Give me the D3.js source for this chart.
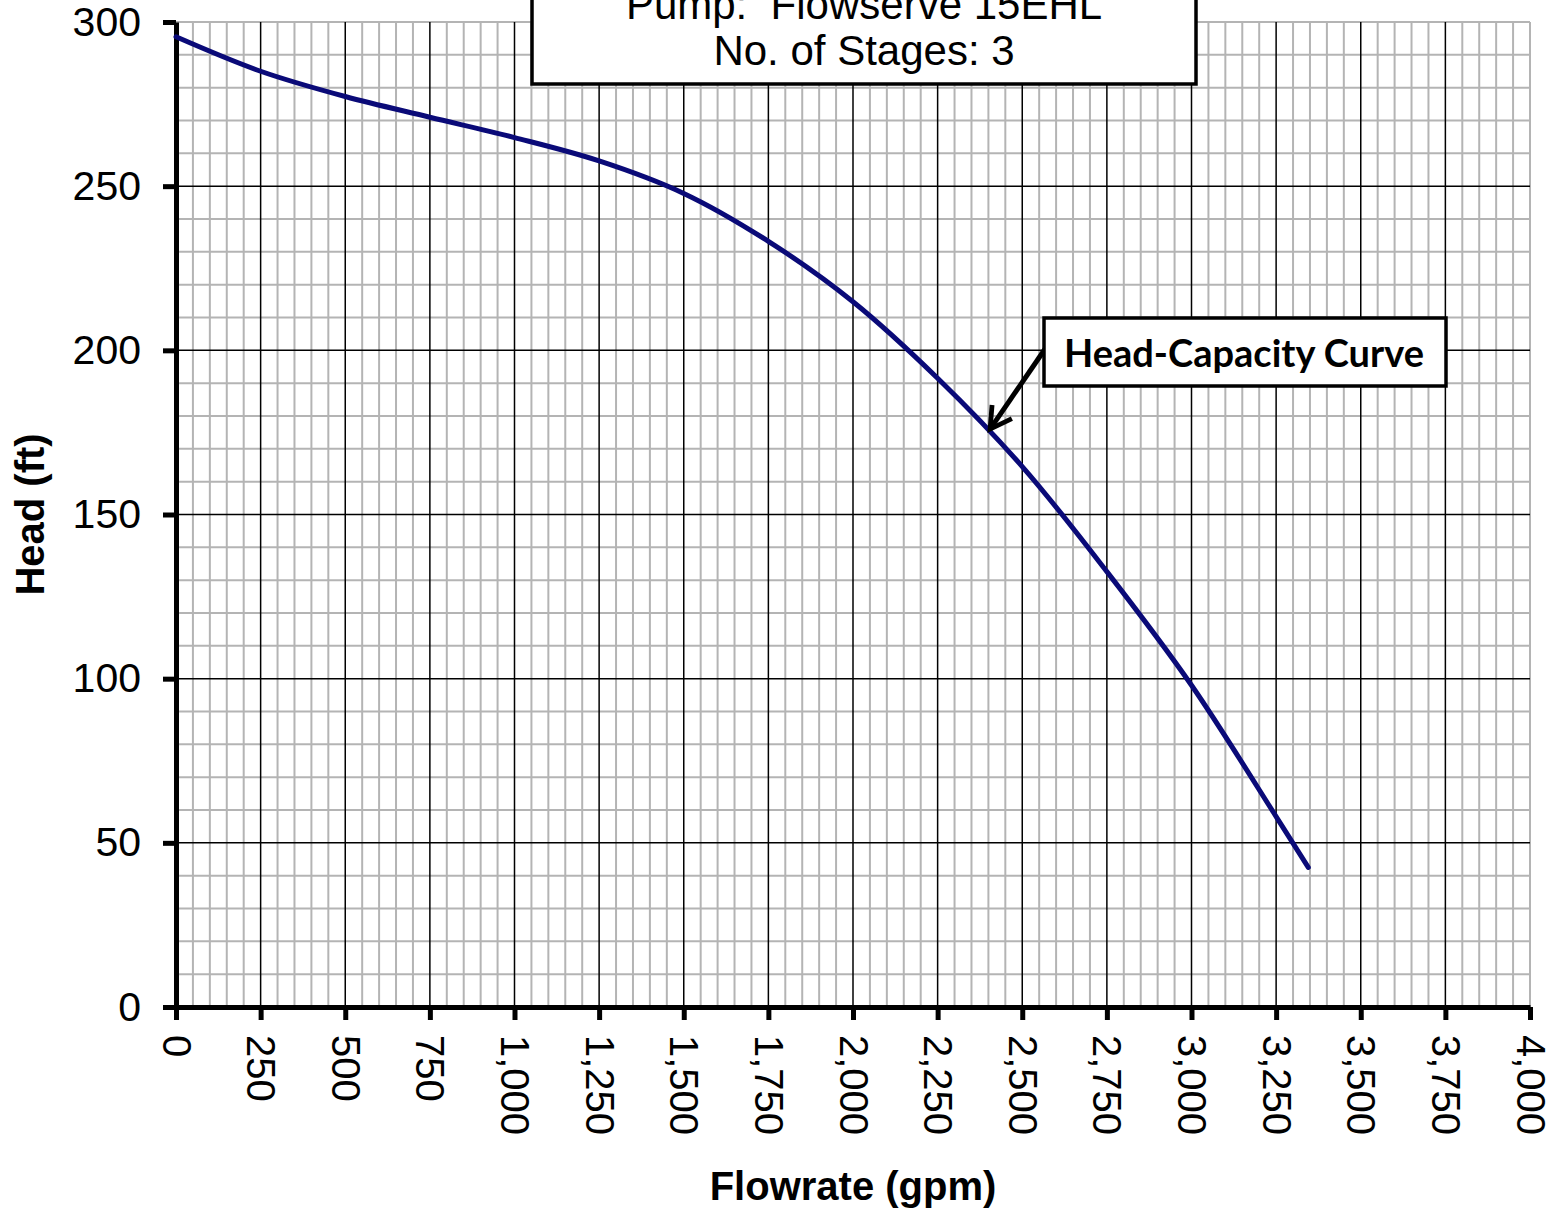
<!DOCTYPE html>
<html>
<head>
<meta charset="utf-8">
<script src="https://cdn.jsdelivr.net/npm/d3@7"></script>
<style>
  body { margin: 0; background: #fff; }
  svg { display: block; }
  text { font-family: "Liberation Sans", Arial, sans-serif; }
</style>
</head>
<body>
<div id="viz"></div>
<script>
// pump curve
const flow = [0, 250, 500, 750, 1000, 1250, 1500, 1750, 2000, 2250, 2500, 2750, 3000, 3250, 3345]
const head = [295.5, 285, 277.3, 271, 264.8, 257.7, 247.8, 233.2, 214.8, 191.5, 164.6, 132.6, 98, 58, 42.5]
const xTicks = d3.range(0, 4001, 250)
const yTicks = d3.range(0, 301, 50)
const titleLines = ["Pump:  Flowserve 15EHL", "No. of Stages: 3"]
const noteText = "Head-Capacity Curve"
const notePoint = [2405, 176]

const W = 1555, H = 1212
const margin = { left: 176, top: 22, right: 25, bottom: 205 }

const svg = d3.select("#viz").append("svg").attr("width", W).attr("height", H)

const x = d3.scaleLinear().domain([0, 4000]).range([margin.left, W - margin.right])
const y = d3.scaleLinear().domain([0, 300]).range([H - margin.bottom, margin.top])

// minor grid
const grid = svg.append("g")
grid.selectAll(".vmin").data(d3.range(50, 4001, 50).filter(d => d % 250 !== 0 || d === 4000))
    .join("line")
    .attr("x1", d => x(d)).attr("x2", d => x(d))
    .attr("y1", y(0)).attr("y2", y(300))
    .attr("stroke", "#b4b4b4").attr("stroke-width", 2)
grid.selectAll(".hmin").data(d3.range(10, 301, 10).filter(d => d % 50 !== 0 || d === 300))
    .join("line")
    .attr("x1", x(0)).attr("x2", x(4000))
    .attr("y1", d => y(d)).attr("y2", d => y(d))
    .attr("stroke", "#b4b4b4").attr("stroke-width", 2)

// major grid
grid.selectAll(".vmaj").data(xTicks.filter(d => d > 0 && d < 4000))
    .join("line")
    .attr("x1", d => x(d)).attr("x2", d => x(d))
    .attr("y1", y(0)).attr("y2", y(300))
    .attr("stroke", "#000").attr("stroke-width", 1.5)
grid.selectAll(".hmaj").data(yTicks.filter(d => d > 0 && d < 300))
    .join("line")
    .attr("x1", x(0)).attr("x2", x(4000))
    .attr("y1", d => y(d)).attr("y2", d => y(d))
    .attr("stroke", "#000").attr("stroke-width", 1.5)

// axes
const fmt = d3.format(",")
const xAxis = svg.append("g")
    .attr("transform", `translate(0,${y(0)})`)
    .call(d3.axisBottom(x).tickValues(xTicks).tickFormat(fmt).tickSize(13).tickPadding(0).tickSizeOuter(0))
xAxis.select(".domain").attr("stroke-width", 5)
xAxis.selectAll(".tick line").attr("stroke-width", 5)
xAxis.selectAll(".tick text")
    .attr("font-size", 40)
    .attr("text-anchor", "start")
    .attr("dy", null)
    .attr("y", 0)
    .attr("dominant-baseline", "central")
    .attr("transform", "translate(0,28) rotate(90)")
    .attr("fill", "#000")

const yAxis = svg.append("g")
    .attr("transform", `translate(${x(0)},0)`)
    .call(d3.axisLeft(y).tickValues(yTicks).tickSize(13).tickPadding(22).tickSizeOuter(0))
yAxis.select(".domain").attr("stroke-width", 5)
yAxis.selectAll(".tick line").attr("stroke-width", 5)
yAxis.selectAll(".tick text").attr("font-size", 41).attr("fill", "#000")

svg.append("text")
    .attr("x", (x(0) + x(4000)) / 2).attr("y", 1200)
    .attr("text-anchor", "middle").attr("font-size", 40).attr("font-weight", "bold")
    .text("Flowrate (gpm)")
svg.append("text")
    .attr("transform", `translate(44,${(y(0) + y(300)) / 2}) rotate(-90)`)
    .attr("text-anchor", "middle").attr("font-size", 40).attr("font-weight", "bold")
    .text("Head (ft)")

// curve
const pts = flow.map((f, i) => [f, head[i]])
svg.append("path")
    .datum(pts)
    .attr("fill", "none")
    .attr("stroke", "#0a0a78")
    .attr("stroke-width", 5)
    .attr("stroke-linecap", "round")
    .attr("d", d3.line().x(d => x(d[0])).y(d => y(d[1])).curve(d3.curveCatmullRom.alpha(0.5)))

// title box (its top runs off the page, as in the original)
svg.append("rect")
    .attr("x", 532).attr("y", -40).attr("width", 664).attr("height", 124)
    .attr("fill", "#fff").attr("stroke", "#000").attr("stroke-width", 3.5)
svg.selectAll(".title").data(titleLines).join("text")
    .attr("x", 864).attr("y", (d, i) => 19 + i * 46)
    .attr("text-anchor", "middle").attr("font-size", 42)
    .style("white-space", "pre")
    .text(d => d)

// annotation
svg.append("defs").append("marker")
    .attr("id", "arr").attr("viewBox", "0 0 10 10").attr("refX", 8).attr("refY", 5)
    .attr("markerWidth", 6).attr("markerHeight", 6).attr("orient", "auto")
    .append("path").attr("d", "M1,1 L8,5 L1,9").attr("fill", "none").attr("stroke", "#000").attr("stroke-width", 1.6)
svg.append("line")
    .attr("x1", 1045).attr("y1", 349)
    .attr("x2", x(notePoint[0])).attr("y2", y(notePoint[1]))
    .attr("stroke", "#000").attr("stroke-width", 5).attr("marker-end", "url(#arr)")
svg.append("rect")
    .attr("x", 1044).attr("y", 318).attr("width", 402).attr("height", 68)
    .attr("fill", "#fff").attr("stroke", "#000").attr("stroke-width", 3.5)
svg.append("text")
    .attr("x", 1244).attr("y", 367)
    .attr("text-anchor", "middle").attr("font-size", 38).attr("font-weight", "bold")
    .style("font-family", "Lato, 'Open Sans', sans-serif")
    .text(noteText)
</script>
</body>
</html>
